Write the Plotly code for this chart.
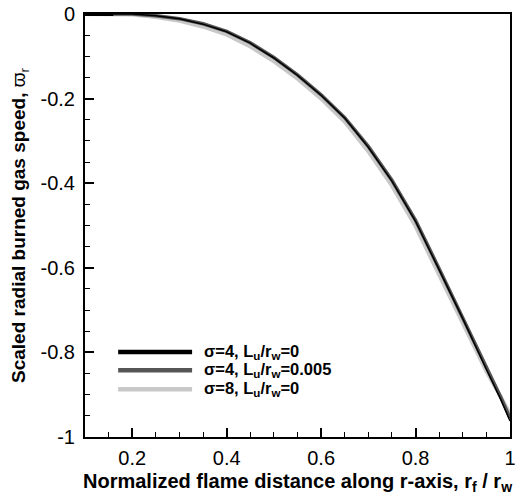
import plotly.graph_objects as go

# Data
r_f = [0.1, 0.16, 0.2, 0.25, 0.3, 0.35, 0.4, 0.45, 0.5, 0.55, 0.6, 0.65, 0.7, 0.75, 0.8, 0.85, 0.9, 0.95, 0.98, 1.0]
w_sig4_L0 = [0.0, 0.0, 0.0, -0.004, -0.011, -0.024, -0.042, -0.069, -0.104, -0.145, -0.192, -0.246, -0.315, -0.395, -0.49, -0.605, -0.72, -0.84, -0.91, -0.962]
w_sig4_L005 = [0.0, 0.0, 0.0, -0.004, -0.011, -0.023, -0.041, -0.068, -0.103, -0.144, -0.191, -0.245, -0.313, -0.393, -0.488, -0.602, -0.717, -0.836, -0.905, -0.955]
w_sig8_L0 = [0.0, 0.0, -0.001, -0.007, -0.016, -0.030, -0.049, -0.077, -0.112, -0.153, -0.200, -0.255, -0.325, -0.406, -0.502, -0.617, -0.73, -0.845, -0.905, -0.945]

series_names = ["σ=4, L<sub>u</sub>/r<sub>w</sub>=0",
                "σ=4, L<sub>u</sub>/r<sub>w</sub>=0.005",
                "σ=8, L<sub>u</sub>/r<sub>w</sub>=0"]
series_colors = ["#000000", "#555555", "#c8c8c8"]

x_tickvals = [0.2, 0.4, 0.6, 0.8, 1.0]
x_ticktext = ["0.2", "0.4", "0.6", "0.8", "1"]
y_tickvals = [0, -0.2, -0.4, -0.6, -0.8, -1.0]
y_ticktext = ["0", "-0.2", "-0.4", "-0.6", "-0.8", "-1"]

FONT = "Arial, Liberation Sans, Helvetica, sans-serif"

fig = go.Figure()
fig.add_trace(go.Scatter(x=r_f, y=w_sig8_L0, mode="lines", name=series_names[2],
                         line=dict(color=series_colors[2], width=4), showlegend=False))
fig.add_trace(go.Scatter(x=r_f, y=w_sig4_L005, mode="lines", name=series_names[1],
                         line=dict(color=series_colors[1], width=3.5), showlegend=False))
fig.add_trace(go.Scatter(x=r_f[:2], y=w_sig4_L0[:2], mode="lines", name=series_names[0],
                         line=dict(color=series_colors[0], width=4), showlegend=False))
fig.add_trace(go.Scatter(x=r_f[1:], y=w_sig4_L0[1:], mode="lines", name=series_names[0],
                         line=dict(color=series_colors[0], width=1.5), showlegend=False))

# manual legend (line samples + labels) in paper coordinates
leg_y = [0.201, 0.158, 0.113]
for name, col, yy in zip(series_names, series_colors, leg_y):
    fig.add_shape(type="line", xref="paper", yref="paper", x0=0.078, x1=0.252, y0=yy, y1=yy,
                  line=dict(color=col, width=4.5))
    fig.add_annotation(xref="paper", yref="paper", x=0.275, y=yy, text="<b>" + name + "</b>",
                       showarrow=False, xanchor="left", yanchor="middle",
                       font=dict(family=FONT, size=16.5, color="#000"))

axis_common = dict(showgrid=False, zeroline=False, showline=True, linecolor="#000", linewidth=2,
                   mirror=True, ticks="inside", ticklen=9, tickwidth=2, tickcolor="#000",
                   automargin=False, ticklabeloverflow="allow",
                   tickfont=dict(family=FONT, size=20, color="#000"))

fig.update_xaxes(range=[0.1, 1.0], tickvals=x_tickvals, ticktext=x_ticktext,
                 minor=dict(dtick=0.05, tick0=0, ticks="inside", ticklen=5, tickwidth=1, tickcolor="#000"),
                 title=dict(text="<b>Normalized flame distance along r-axis, r<sub>f</sub> / r<sub>w</sub></b>",
                            font=dict(family=FONT, size=20, color="#000"), standoff=6),
                 ticklabelstandoff=2,
                 **axis_common)
fig.update_yaxes(range=[-1.0, 0.0], tickvals=y_tickvals, ticktext=y_ticktext,
                 minor=dict(dtick=0.05, tick0=0, ticks="inside", ticklen=5, tickwidth=1, tickcolor="#000"),
                 title=dict(text="<b>Scaled radial burned gas speed, </b>ϖ<sub>r</sub>",
                            font=dict(family=FONT, size=19, color="#000"), standoff=10),
                 ticklabelstandoff=4,
                 **axis_common)

fig.update_layout(width=515, height=502, margin=dict(l=85, r=5, t=14, b=65),
                  paper_bgcolor="white", plot_bgcolor="white", showlegend=False)

fig.write_html("out.html", config={"displayModeBar": False},
               post_script="document.body.style.margin='0';document.body.style.overflow='hidden';")
